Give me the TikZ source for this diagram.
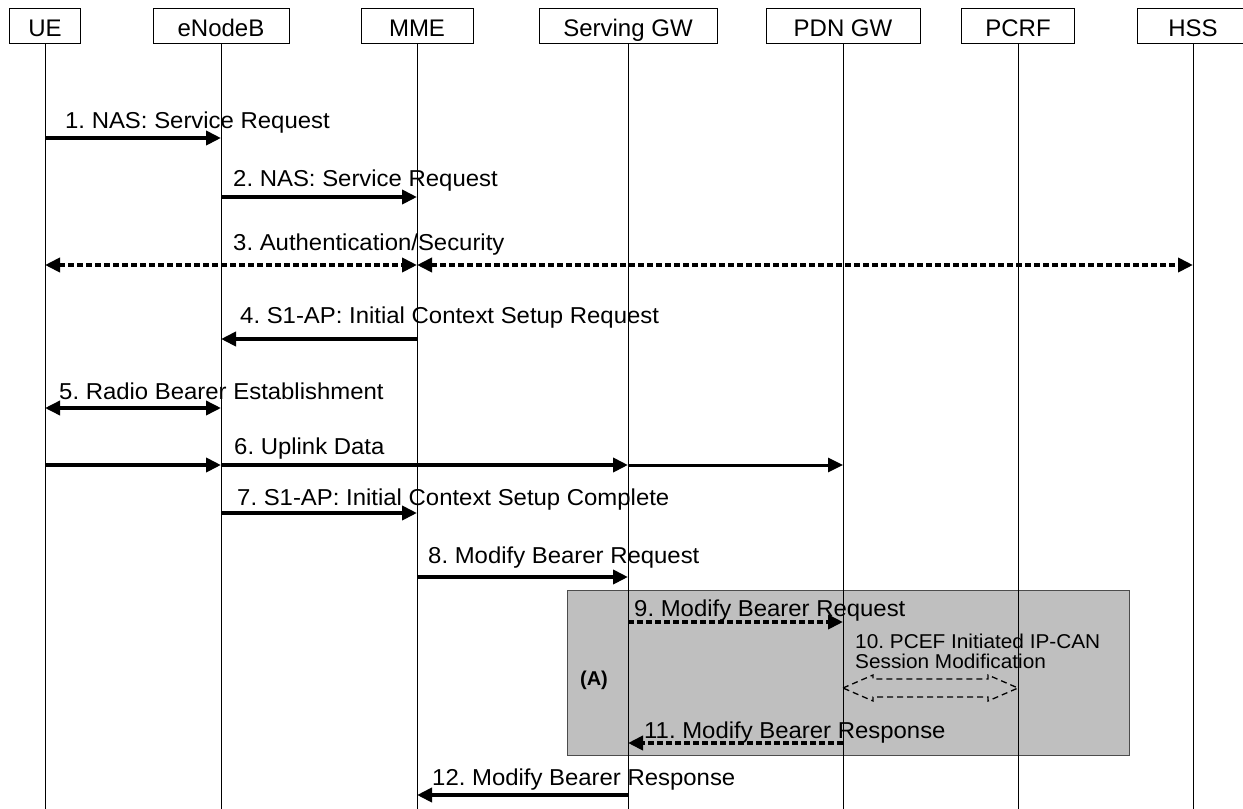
\documentclass[tikz,border=0pt]{standalone}
\usepackage{fontspec}
\setmainfont{Liberation Sans}
\newfontfamily\lblfont{Liberation Sans}[FakeStretch=1.04]
\frenchspacing
\usetikzlibrary{arrows.meta,calc}
\begin{document}
\begin{tikzpicture}[x=1pt,y=-1pt,
  hdr/.style={draw, line width=1pt, minimum height=35pt, inner sep=0pt, text height=22pt, text depth=0pt, font=\fontsize{24}{27}\selectfont},
  lbl/.style={anchor=base west, inner sep=0pt, font=\lblfont\frenchspacing\fontsize{23}{27}\selectfont},
  life/.style={line width=1pt},
  tip/.tip={Triangle[length=15pt,width=14pt]},
  msg/.style={line width=4pt, -tip},
  msgthin/.style={line width=3pt, -tip},
  bimsg/.style={line width=3.5pt, tip-tip},
  dotmsg/.style={line width=4pt, dash pattern=on 6pt off 3pt, -tip},
  dotbimsg/.style={line width=4pt, dash pattern=on 6pt off 3pt, tip-tip},
  hollow/.style={line width=1.3pt, dash pattern=on 6pt off 4pt},
  grp/.style={draw=black!70, line width=1pt, fill=black!25}
]
\useasboundingbox (0,0) rectangle (1243,809);
\clip (0,0) rectangle (1243,809);
\fill[white] (0,0) rectangle (1243,809);

% group box (A)
\node[grp, minimum width=562pt, minimum height=165pt, inner sep=0pt] (grpA) at (848,672.5) {};

% headers
\node[hdr, minimum width=71pt]  (UE)   at (45,25.5)  {UE};
\node[hdr, minimum width=136pt] (ENB)  at (221,25.5) {eNodeB};
\node[hdr, minimum width=112pt] (MME)  at (417,25.5) {MME};
\node[hdr, minimum width=178pt] (SGW)  at (628,25.5) {Serving GW};
\node[hdr, minimum width=154pt] (PGW)  at (843,25.5) {PDN GW};
\node[hdr, minimum width=113pt] (PCRF) at (1018,25.5) {PCRF};
\node[hdr, minimum width=112pt] (HSS)  at (1193,25.5) {HSS};

\coordinate (bot) at (0,809);
\foreach \n in {UE,ENB,MME,SGW,PGW,PCRF,HSS}
  \draw[life] (\n.south) -- (\n.south |- bot);

% 1
\node[lbl] (l1) at (65,128) {1. NAS: Service Request};
\draw[msg] (UE |- 0,138) -- (ENB |- 0,138);
% 2
\node[lbl] (l2) at (233,186) {2. NAS: Service Request};
\draw[msg] (ENB |- 0,197) -- (MME |- 0,197);
% 3
\node[lbl] (l3) at (233,250) {3. Authentication/Security};
\draw[dotbimsg] (UE |- 0,265) -- (MME |- 0,265);
\draw[dotbimsg] (MME |- 0,265) -- (HSS |- 0,265);
% 4
\node[lbl] (l4) at (240,323) {4. S1-AP: Initial Context Setup Request};
\draw[msg] (MME |- 0,339) -- (ENB |- 0,339);
% 5
\node[lbl] (l5) at (59,399) {5. Radio Bearer Establishment};
\draw[bimsg] (UE |- 0,408) -- (ENB |- 0,408);
% 6
\node[lbl] (l6) at (234,454) {6. Uplink Data};
\draw[msg] (UE |- 0,465) -- (ENB |- 0,465);
\draw[msg] (ENB |- 0,465) -- (SGW |- 0,465);
\draw[msgthin] (SGW |- 0,465) -- (PGW |- 0,465);
% 7
\node[lbl] (l7) at (237,505) {7. S1-AP: Initial Context Setup Complete};
\draw[msg] (ENB |- 0,513) -- (MME |- 0,513);
% 8
\node[lbl] (l8) at (428,563) {8. Modify Bearer Request};
\draw[msg] (MME |- 0,577) -- (SGW |- 0,577);
% 9
\node[lbl] (l9) at (634,616) {9. Modify Bearer Request};
\draw[dotmsg] (SGW |- 0,622) -- (PGW |- 0,622);
% 10
\node[lbl, anchor=north west, align=left, font=\lblfont\frenchspacing\fontsize{20}{20}\selectfont] (l10) at (855,634) {10. PCEF Initiated IP-CAN\\Session Modification};
\draw[hollow] (PGW |- 0,688) -- ++(30,-13) -- ++(0,4) -- ($(PCRF |- 0,679)+(-30,0)$) -- ++(0,-4) -- (PCRF |- 0,688)
  -- ++(-30,13) -- ++(0,-4) -- ($(PGW |- 0,697)+(30,0)$) -- ++(0,4) -- cycle;
\node[font=\bfseries\fontsize{20}{22}\selectfont, inner sep=0pt] (A) at (594,680) {(A)};
% 11
\node[lbl] (l11) at (644,738) {11. Modify Bearer Response};
\draw[dotmsg] (PGW |- 0,743) -- (SGW |- 0,743);
% 12
\node[lbl] (l12) at (432,785) {12. Modify Bearer Response};
\draw[msg] (SGW |- 0,795) -- (MME |- 0,795);
\end{tikzpicture}
\end{document}
